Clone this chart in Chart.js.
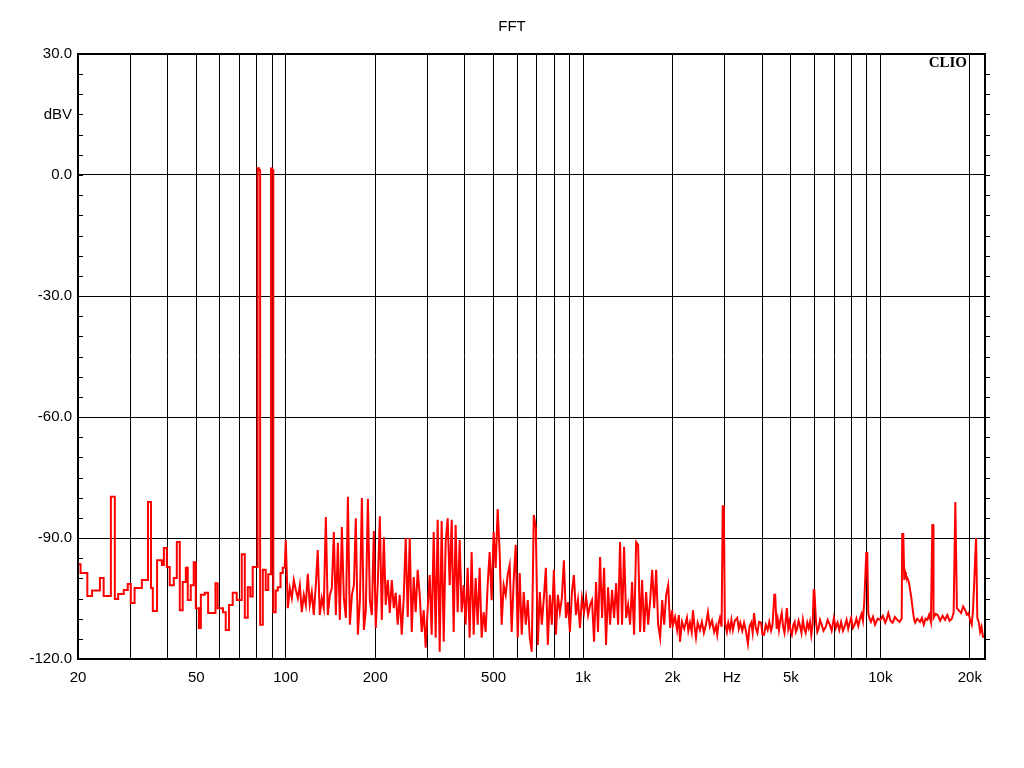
<!DOCTYPE html>
<html>
<head>
<meta charset="utf-8">
<title>FFT</title>
<script src="https://cdn.jsdelivr.net/npm/chart.js@4/dist/chart.umd.min.js"></script>
<style>
  html, body { margin: 0; padding: 0; background: #fff; }
  #wrap { width: 1024px; height: 768px; }
</style>
</head>
<body>
<div id="wrap"><canvas id="fft" width="1024" height="768"></canvas></div>
<script>
// spectrum: frequency (Hz) and level (dBV)
const spectrumHz = [
  // 20 - 100 Hz
  20, 20.4, 21.5, 22.3, 23.7, 24.4, 25.8, 26.6, 27.3, 28.5, 29.4, 30.1, 31.0, 32.8, 34.4, 35.2, 35.7, 36.9, 38.3, 38.9,
  39.8, 40.7, 42.0, 43.0, 44.0, 45.0, 46.1, 46.8, 47.9, 49.0, 49.8, 51.0, 51.8, 53.4, 54.8, 58.0, 59.0, 61.5, 62.8, 64.4,
  66.3, 68.4, 71.1, 72.8, 74.5, 76.0, 77.4, 80.4, 81.2, 82.0, 83.7, 85.6, 87.3, 89.2, 90.0, 90.8, 92.5, 94.0, 96.0, 97.7,
  99.2,
  // 100 Hz - 2 kHz
  100, 101.6, 103.2, 104.8, 106.4, 108.1, 109.8, 111.5, 113.2, 115.0,
  116.8, 118.6, 120.4, 122.3, 124.2, 126.2, 128.1, 130.1, 132.2, 134.2,
  136.4, 138.5, 140.7, 142.9, 145.1, 147.4, 149.7, 152.0, 154.4, 156.8,
  159.3, 161.8, 164.3, 166.9, 169.5, 172.0, 174.8, 177.6, 180.3, 183.1,
  185.9, 188.9, 191.8, 194.8, 197.8, 200.8, 204.0, 207.2, 210.4, 213.7,
  216.9, 220.4, 223.8, 227.3, 230.8, 234.3, 238.0, 241.7, 245.5, 249.3,
  253.2, 257.2, 261.2, 265.3, 269.4, 273.5, 277.8, 282.2, 286.6, 291.1,
  295.5, 300.2, 304.9, 309.6, 314.5, 319.3, 324.3, 329.4, 334.5, 339.8,
  345.0, 350.4, 355.9, 361.5, 367.1, 372.7, 378.6, 384.5, 390.5, 396.6,
  402.7, 409.0, 415.4, 421.9, 428.5, 435.2, 442.0, 448.9, 455.9, 463.0,
  470.3, 477.6, 485.1, 492.6, 500.3, 508.2, 516.1, 524.2, 532.4, 540.7,
  549.3, 557.8, 566.5, 575.3, 584.4, 593.7, 602.9, 612.3, 621.9, 631.6,
  641.7, 651.7, 661.9, 672.2, 682.7, 693.6, 704.5, 715.4, 726.6, 738.0,
  749.7, 761.3, 773.2, 785.3, 797.6, 810.3, 822.8, 835.7, 848.7, 862.0,
  875.8, 889.4, 903.3, 917.4, 931.8, 946.6, 961.3, 976.4, 991.6, 1008,
  1024, 1040, 1056, 1072, 1089, 1106, 1123, 1141, 1159, 1177,
  1195, 1214, 1233, 1252, 1272, 1292, 1312, 1332, 1353, 1374,
  1396, 1418, 1440, 1462, 1485, 1509, 1532, 1556, 1580, 1605,
  1630, 1656, 1682, 1708, 1735, 1762, 1789, 1817, 1846, 1874,
  1904, 1934, 1964, 1994,
  // 2 kHz - 22.5 kHz
  2008, 2040, 2072, 2100, 2119, 2152, 2190, 2236, 2260, 2289, 2320, 2343, 2370, 2398, 2430, 2473, 2510, 2550, 2590, 2631,
  2670, 2715, 2760, 2800, 2827, 2860, 2887, 2925, 2950, 2975, 3000, 3047, 3080, 3119, 3155, 3193, 3240, 3301, 3340, 3380,
  3432, 3480, 3530, 3586, 3630, 3680, 3720, 3760, 3810, 3860, 3910, 3972, 4010, 4060, 4120, 4180, 4230, 4290, 4340, 4400,
  4430, 4480, 4520, 4560, 4610, 4660, 4710, 4760, 4800, 4850, 4900, 4940, 4990, 5040, 5100, 5150, 5200, 5250, 5310, 5370,
  5430, 5490, 5550, 5610, 5680, 5740, 5800, 5860, 5920, 5970, 6000, 6080, 6140, 6200, 6270, 6350, 6440, 6560, 6650, 6760,
  6860, 6980, 7080, 7180, 7280, 7380, 7490, 7600, 7700, 7800, 7890, 7980, 8090, 8200, 8310, 8430, 8540, 8650, 8740, 8830,
  8900, 8970, 9040, 9110, 9200, 9300, 9450, 9600, 9800, 10000, 10200, 10390, 10520, 10640, 10820, 11000, 11200, 11400, 11600, 11800,
  11850, 11950, 12040, 12120, 12200, 12350, 12500, 12600, 12700, 12800, 12900, 13000, 13100, 13300, 13600, 13800, 14000, 14200, 14400, 14600,
  14800, 14960, 15050, 15100, 15350, 15600, 15900, 16200, 16500, 16800, 17100, 17400, 17650, 17880, 17960, 18100, 18400, 18700, 19000, 19300,
  19550, 19800, 20050, 20300, 20500, 20700, 20850, 21000, 21100, 21200, 21450, 21670, 21900, 22150, 22500
];
const spectrumDbv = [
  // 20 - 100 Hz
  -96.5, -98.7, -104.4, -103.0, -99.9, -104.4, -79.8, -105.1, -103.9, -102.9, -101.4, -106.1, -102.4, -100.4, -81.1, -102.4, -108.1, -95.5, -96.7, -92.5,
  -97.2, -101.7, -99.9, -91.0, -107.9, -100.9, -97.4, -105.4, -101.7, -96.0, -107.4, -112.3, -104.1, -103.6, -108.6, -101.2, -107.4, -108.4, -112.8, -106.6,
  -103.6, -105.4, -94.0, -109.8, -102.2, -104.5, -97.2, 1.7, 1.2, -111.5, -97.9, -102.9, -99.0, 1.6, 1.2, -108.4, -103.0, -102.2, -98.7, -97.4,
  -97.4,
  // 100 Hz - 2 kHz
  -90.5, -107.4, -102.4, -104.9, -100.4, -102.9, -104.9, -101.7, -108.4, -104.1,
  -106.6, -98.9, -106.6, -103.4, -109.1, -101.7, -93.0, -109.1, -104.9, -107.4,
  -84.8, -109.1, -104.1, -102.4, -88.5, -109.1, -91.2, -110.3, -87.3, -104.9,
  -109.8, -79.8, -111.5, -104.1, -101.7, -85.1, -114.0, -105.4, -80.1, -112.8,
  -107.9, -80.3, -105.4, -109.1, -88.3, -112.3, -100.9, -84.6, -110.3, -89.8,
  -106.6, -100.4, -108.6, -100.4, -107.4, -103.6, -111.5, -104.1, -114.0, -104.9,
  -90.0, -109.6, -90.0, -113.3, -99.7, -108.4, -97.9, -104.1, -113.3, -107.9,
  -117.2, -107.4, -99.2, -114.0, -88.5, -114.7, -85.5, -118.2, -85.8, -115.7,
  -91.0, -85.1, -101.7, -85.5, -113.3, -86.8, -108.4, -90.5, -108.4, -101.7,
  -111.5, -97.4, -114.7, -93.5, -114.0, -99.9, -111.5, -97.4, -114.7, -108.4,
  -113.3, -101.7, -93.5, -105.4, -88.5, -97.4, -82.8, -93.5, -111.5, -101.7,
  -104.1, -99.2, -96.7, -113.3, -100.4, -91.7, -114.7, -98.7, -114.0, -103.4,
  -111.5, -105.4, -114.7, -118.2, -84.3, -87.5, -116.5, -103.4, -111.5, -104.9,
  -97.4, -116.5, -104.1, -111.5, -97.9, -114.0, -104.1, -108.4, -104.9, -95.5,
  -109.8, -105.9, -113.3, -103.4, -99.2, -109.1, -105.4, -112.3, -104.9, -108.4,
  -104.6, -109.1, -106.6, -105.4, -115.7, -100.9, -113.3, -94.7, -109.8, -97.4,
  -116.5, -102.2, -111.5, -102.9, -109.8, -101.2, -111.5, -91.0, -111.5, -92.2,
  -109.8, -106.6, -111.5, -100.9, -114.0, -91.0, -91.7, -113.3, -100.4, -113.3,
  -103.4, -111.5, -105.4, -97.9, -107.4, -97.9, -111.5, -114.7, -105.4, -111.5,
  -104.1, -101.7, -112.3, -107.9,
  // 2 kHz - 22.5 kHz
  -111.5, -109.6, -112.8, -109.1, -115.7, -110.8, -112.5, -109.8, -113.0, -111.0, -113.3, -107.9, -111.8, -114.7, -111.0, -112.8, -110.8, -113.5, -111.5, -108.4,
  -112.0, -110.5, -113.3, -111.8, -114.0, -111.0, -109.8, -112.0, -82.1, -82.1, -110.8, -113.3, -111.0, -112.8, -110.3, -112.8, -110.5, -109.8, -112.5, -111.0,
  -113.0, -111.0, -113.0, -116.2, -112.0, -111.0, -113.5, -108.6, -112.3, -113.5, -110.8, -111.0, -113.8, -114.0, -111.5, -112.8, -110.8, -113.0, -111.5, -104.1,
  -104.1, -112.5, -110.3, -112.8, -110.3, -108.6, -112.0, -113.5, -111.0, -107.4, -112.3, -110.8, -113.0, -114.0, -111.5, -110.8, -113.3, -112.5, -110.5, -111.8,
  -113.5, -110.3, -112.5, -113.5, -111.0, -112.3, -110.8, -114.0, -111.5, -102.9, -102.9, -111.0, -113.3, -112.5, -110.3, -111.5, -113.0, -112.0, -110.3, -111.5,
  -113.0, -109.8, -112.3, -111.0, -112.8, -110.8, -113.0, -111.8, -110.3, -112.5, -111.0, -109.8, -112.3, -111.5, -110.0, -111.8, -110.0, -108.8, -110.5, -105.9,
  -100.0, -93.7, -93.7, -108.6, -110.0, -110.8, -109.5, -111.5, -110.0, -110.3, -109.3, -111.0, -110.0, -108.6, -110.5, -111.0, -109.6, -110.3, -110.8, -110.0,
  -89.0, -89.0, -100.4, -98.5, -99.4, -100.0, -101.2, -103.0, -104.5, -106.5, -108.6, -110.3, -111.0, -110.0, -110.8, -109.8, -111.5, -110.0, -110.3, -109.0,
  -110.8, -86.8, -86.8, -109.8, -108.8, -109.1, -110.5, -109.3, -110.3, -109.1, -110.5, -110.0, -108.5, -81.1, -81.1, -107.4, -108.0, -108.6, -107.0, -107.9,
  -109.0, -108.6, -110.3, -111.5, -108.0, -100.9, -95.0, -90.0, -90.0, -109.8, -111.0, -113.3, -112.0, -114.5, -114.5
];

// below this the CLIO trace is drawn as bin steps, above it as a plain line
const steppedUpToHz = 99.2;

// axes
const freqMin = 20;
const freqMax = 22500;
const xGridHz = [20, 30, 40, 50, 60, 70, 80, 90, 100, 200, 300, 400, 500, 600, 700, 800, 900,
                 1000, 2000, 3000, 4000, 5000, 6000, 7000, 8000, 9000, 10000, 20000];
const xLabelHz = [20, 50, 100, 200, 500, 1000, 2000, 5000, 10000, 20000];
const xLabelText = ['20', '50', '100', '200', '500', '1k', '2k', '5k', '10k', '20k'];
const unitAtHz = 3000;   // the "Hz" unit sits just right of the 3k line
const dbMin = -120;
const dbMax = 30;

const labelFor = {};
xLabelHz.forEach(function(v, i) { labelFor[v] = xLabelText[i]; });

const font = '"Liberation Sans", Arial, sans-serif';

// frame, minor ticks, title, unit and the CLIO mark
const framePlugin = {
  id: 'frame',
  afterDraw: function(chart) {
    var ctx = chart.ctx, a = chart.chartArea, x = chart.scales.x, y = chart.scales.y;
    ctx.save();
    ctx.strokeStyle = '#000';
    ctx.lineWidth = 1;
    ctx.beginPath();
    for (var v = dbMin + 5; v < dbMax; v += 5) {
      var py = Math.round(y.getPixelForValue(v)) + 0.5;
      ctx.moveTo(a.left, py); ctx.lineTo(a.left + 5, py);
      ctx.moveTo(a.right, py); ctx.lineTo(a.right + 5, py);
    }
    ctx.stroke();
    ctx.lineWidth = 2;
    ctx.strokeRect(a.left, a.top, a.right - a.left, a.bottom - a.top);

    ctx.fillStyle = '#000';
    ctx.font = '15px ' + font;
    ctx.textAlign = 'center';
    ctx.textBaseline = 'middle';
    ctx.fillText('FFT', 512, 27);
    ctx.fillText('Hz', x.getPixelForValue(unitAtHz) + 7, a.bottom + 19);

    ctx.font = 'bold 15px "Liberation Serif", "Times New Roman", serif';
    ctx.textAlign = 'right';
    ctx.textBaseline = 'alphabetic';
    ctx.fillText('CLIO', a.right - 18, a.top + 13);
    ctx.restore();
  }
};

const points = spectrumHz.map(function(f, i) { return { x: f, y: spectrumDbv[i] }; });
const lowPoints = points.filter(function(p) { return p.x <= steppedUpToHz; });
const highPoints = points.filter(function(p) { return p.x >= steppedUpToHz; });

function trace(data, stepped) {
  return { data: data, borderColor: '#ff0000', borderWidth: 2, pointRadius: 0, fill: false, stepped: stepped, tension: 0 };
}

new Chart(document.getElementById('fft'), {
  type: 'line',
  data: { datasets: [trace(lowPoints, true), trace(highPoints, false)] },
  options: {
    responsive: false,
    animation: false,
    devicePixelRatio: 1,
    layout: { padding: { left: 0, right: 39, top: 54, bottom: 0 } },
    plugins: { legend: { display: false }, tooltip: { enabled: false }, title: { display: false } },
    scales: {
      x: {
        type: 'logarithmic',
        min: freqMin, max: freqMax,
        afterBuildTicks: function(s) { s.ticks = xGridHz.map(function(v) { return { value: v }; }); },
        afterFit: function(s) { s.height = 109; },
        border: { display: false },
        grid: { color: '#000', lineWidth: 1, drawTicks: false },
        ticks: {
          autoSkip: false, maxRotation: 0, padding: 10, color: '#000',
          font: { family: font, size: 15 },
          callback: function(v) { return labelFor[v] || ''; }
        }
      },
      y: {
        min: dbMin, max: dbMax,
        afterFit: function(s) { s.width = 78; },
        border: { display: false },
        grid: {
          drawTicks: false, lineWidth: 1,
          color: function(c) { return c.tick && c.tick.value % 30 === 0 ? '#000' : 'rgba(0,0,0,0)'; }
        },
        ticks: {
          stepSize: 15, padding: 6, color: '#000',
          font: { family: font, size: 15 },
          callback: function(v) {
            if (v === 15) return 'dBV';
            return v % 30 === 0 ? v.toFixed(1) : '';
          }
        }
      }
    }
  },
  plugins: [framePlugin]
});
</script>
</body>
</html>
